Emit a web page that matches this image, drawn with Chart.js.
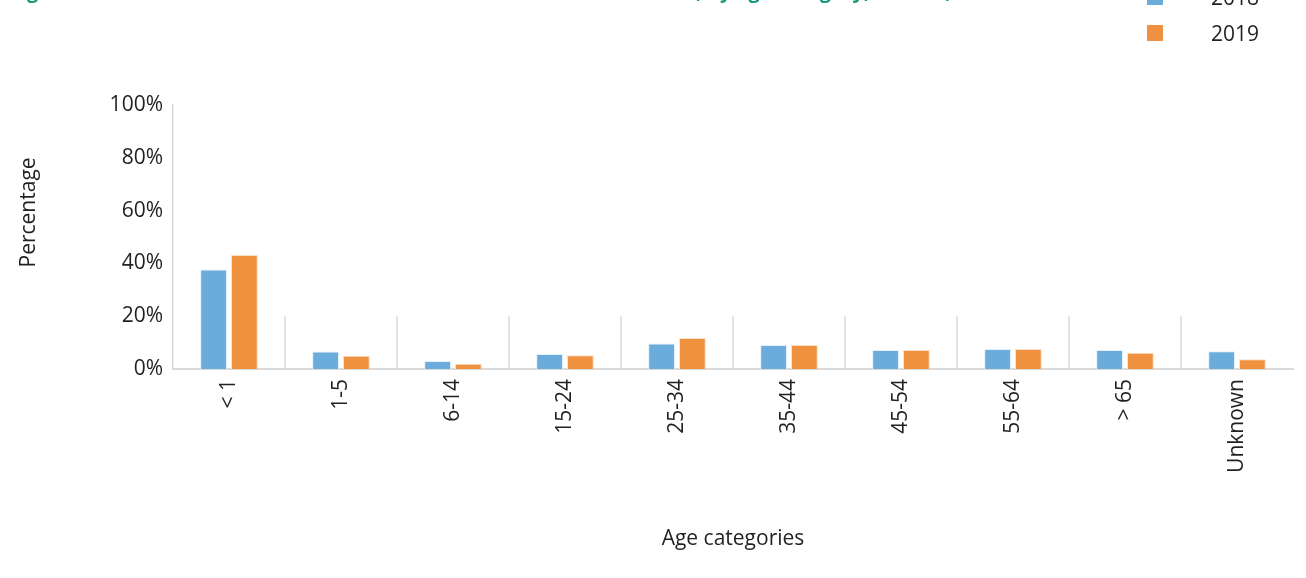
<!DOCTYPE html>
<html lang="en">
<head>
    <meta charset="UTF-8">
    <title>Age categories</title>
    <script src="https://cdn.jsdelivr.net/npm/chart.js"></script>
    <style>
        body {
            margin: 0;
            background: #ffffff;
            font-family: 'Open Sans', sans-serif;
        }
        .wrap {
            position: relative;
            width: 1306px;
            height: 578px;
            overflow: hidden;
        }
        .fig-title {
            position: absolute;
            left: 10px;
            top: -19px;
            font-size: 20px;
            line-height: 20px;
            font-weight: bold;
            color: #17987c;
            white-space: nowrap;
        }
        .legend {
            position: absolute;
            left: 1147px;
            top: -21px;
            font-size: 21px;
            color: #231f20;
        }
        .legend-item {
            display: flex;
            align-items: center;
            height: 36px;
        }
        .legend-box {
            width: 16px;
            height: 16px;
            margin-right: 48px;
        }
    </style>
</head>
<body>
<div class="wrap">
    <div class="fig-title">Figure 1. Distribution of confirmed cases of the disease in the EU/EEA, by age category, EU/EEA, 2018–2019</div>
    <canvas id="ageChart"></canvas>
    <div class="legend" id="legend"></div>
</div>

<script>
const categories = ['< 1', '1-5', '6-14', '15-24', '25-34', '35-44', '45-54', '55-64', '> 65', 'Unknown'];
const years = ['2018', '2019'];
const values2018 = [37.7, 6.6, 3.0, 5.7, 9.7, 9.1, 7.2, 7.6, 7.2, 6.7];
const values2019 = [43.2, 5.0, 2.0, 5.2, 11.7, 9.1, 7.2, 7.6, 6.2, 3.7];
const yTicks = [0, 20, 40, 60, 80, 100];

const textColor = '#231f20';
const axisColor = '#d9d9d9';
const fontSize = 21;

// short vertical separators between categories (0% up to 20%)
const separators = {
    id: 'separators',
    beforeDatasetsDraw(chart) {
        const x = chart.scales.x, y = chart.scales.y;
        const ctx = chart.ctx;
        const top = y.getPixelForValue(yTicks[1]);
        const bottom = y.getPixelForValue(0);
        ctx.save();
        ctx.strokeStyle = axisColor;
        ctx.lineWidth = 1.5;
        for (let i = 1; i < categories.length; i++) {
            const px = (x.getPixelForTick(i - 1) + x.getPixelForTick(i)) / 2;
            ctx.beginPath();
            ctx.moveTo(px, top);
            ctx.lineTo(px, bottom);
            ctx.stroke();
        }
        ctx.restore();
    }
};

const chart = new Chart(document.getElementById('ageChart'), {
    type: 'bar',
    data: {
        labels: categories,
        datasets: [
            {
                label: years[0],
                data: values2018,
                backgroundColor: '#6aacdc',
                borderColor: '#e3f0fa',
                borderWidth: 1
            },
            {
                label: years[1],
                data: values2019,
                backgroundColor: '#f0913f',
                borderColor: '#fbe0c8',
                borderWidth: 1
            }
        ]
    },
    options: {
        responsive: true,
        maintainAspectRatio: false,
        animation: false,
        categoryPercentage: 0.55,
        barPercentage: 0.87,
        layout: {
            padding: { top: 105, right: 13, bottom: 20, left: 8 }
        },
        plugins: {
            legend: { display: false },
            tooltip: { enabled: false }
        },
        scales: {
            x: {
                grid: { display: false, drawTicks: false },
                border: { display: true, color: axisColor, width: 2 },
                ticks: {
                    color: textColor,
                    font: { family: 'Open Sans', size: fontSize },
                    minRotation: 90,
                    maxRotation: 90,
                    padding: 10,
                    autoSkip: false
                },
                title: {
                    display: true,
                    text: 'Age categories',
                    color: textColor,
                    font: { family: 'Open Sans', size: fontSize },
                    padding: { top: 0, bottom: 6 }
                },
                afterFit(scale) { scale.height = 578 - 369 - 20; }
            },
            y: {
                min: 0,
                max: 100,
                grid: { display: false, drawTicks: false },
                border: { display: true, color: axisColor, width: 1.5 },
                ticks: {
                    stepSize: 20,
                    color: textColor,
                    font: { family: 'Open Sans', size: fontSize },
                    padding: 10,
                    callback: v => v + '%'
                },
                title: {
                    display: true,
                    // leading spaces lift the label above the axis centre, as in the original
                    text: '\u00a0'.repeat(9) + 'Percentage',
                    color: textColor,
                    font: { family: 'Open Sans', size: fontSize },
                    padding: { top: 8, bottom: 0 }
                },
                afterFit(scale) { scale.width = 173 - 8; }
            }
        }
    },
    plugins: [separators]
});

// legend drawn as html, items stacked vertically
const legend = document.getElementById('legend');
chart.data.datasets.forEach(ds => {
    const item = document.createElement('div');
    item.className = 'legend-item';
    item.innerHTML = '<span class="legend-box" style="background:' + ds.backgroundColor + '"></span>' + ds.label;
    legend.appendChild(item);
});
</script>
</body>
</html>
